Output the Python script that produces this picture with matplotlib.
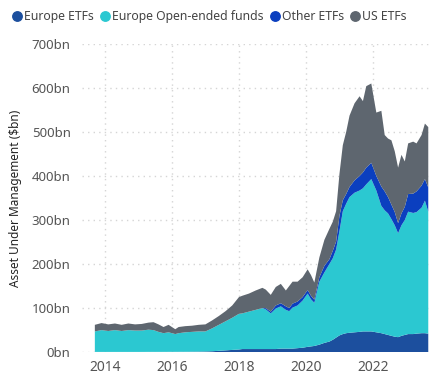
import matplotlib
matplotlib.use("Agg")
import matplotlib.pyplot as plt
from matplotlib.lines import Line2D
from matplotlib.ticker import FuncFormatter

plt.rcParams['font.family'] = ['Noto Sans', 'DejaVu Sans']

# decimal years
dates = [2013.7, 2013.9, 2014.1, 2014.3, 2014.5, 2014.7, 2014.9, 2015.1, 2015.3, 2015.45,
         2015.6, 2015.75, 2015.9, 2016.1, 2016.2, 2016.4, 2016.6, 2016.8, 2017.0, 2017.2,
         2017.4, 2017.6, 2017.8, 2018.0, 2018.1, 2018.3, 2018.5, 2018.7, 2018.8, 2018.95,
         2019.1, 2019.25, 2019.4, 2019.5, 2019.6, 2019.75, 2019.9, 2020.05, 2020.15, 2020.25,
         2020.4, 2020.55, 2020.7, 2020.8, 2020.9, 2021.0, 2021.1, 2021.2, 2021.3, 2021.45,
         2021.6, 2021.7, 2021.8, 2021.95, 2022.1, 2022.25, 2022.35, 2022.45, 2022.55, 2022.65,
         2022.75, 2022.85, 2022.95, 2023.05, 2023.2, 2023.3, 2023.45, 2023.55, 2023.65]

# $bn
europe_etfs = [0.5, 0.5, 0.5, 0.5, 0.5, 0.5, 0.5, 0.5, 0.6, 0.6,
               0.6, 0.6, 0.7, 0.7, 0.8, 0.8, 1, 1.2, 1.5, 2,
               3, 4, 5, 6, 7, 7, 7, 7, 7, 7,
               7, 8, 8, 8, 8, 9, 10, 12, 13, 14,
               17, 21, 24, 28, 33, 38, 41, 43, 44, 45,
               46, 47, 47, 47, 45, 43, 41, 39, 37, 35,
               34, 37, 39, 41, 41, 42, 43, 43, 42]
europe_oef = [46.5, 49.5, 47.5, 49.5, 47.5, 49.5, 48.5, 48.5, 50.4, 49.4,
              45.4, 42.4, 44.3, 40.3, 42.2, 44.2, 45, 45.8, 45.5, 52,
              59, 66, 73, 81, 81, 85, 89, 93, 90, 81,
              92, 96, 88, 85, 93, 97, 107, 121, 107, 98,
              143, 160, 176, 185, 200, 237, 279, 294, 308, 317,
              321, 325, 334, 346, 322, 289, 281, 276, 265, 253,
              236, 251, 261, 278, 275, 276, 285, 301, 277]
other_etfs = [0, 0, 0, 0, 0, 0, 0, 0, 0, 0,
              0, 0, 0, 0, 0, 0, 0, 0, 0, 0,
              0, 0, 0, 0, 0, 0, 0, 0, 3, 4,
              7, 7, 8, 7, 9, 9, 8, 8, 8, 7,
              10, 15, 11, 17, 18, 35, 25, 22, 23, 28,
              33, 36, 38, 37, 33, 44, 43, 37, 33, 30,
              23, 27, 30, 40, 44, 47, 50, 49, 55]
us_etfs = [15, 16, 15, 15, 14, 15, 14, 15, 16, 18,
           17, 14, 17, 11, 14, 14, 14, 15, 16, 18,
           20, 23, 28, 38, 40, 41, 44, 46, 42, 38,
           42, 44, 36, 50, 50, 45, 45, 47, 47, 39,
           45, 59, 69, 66, 69, 95, 125, 141, 162, 175,
           181, 162, 185, 180, 144, 172, 128, 133, 146, 138,
           126, 133, 103, 115, 118, 109, 115, 126, 137]

labels = ["Europe ETFs", "Europe Open-ended funds", "Other ETFs", "US ETFs"]
colors = ["#1c4f9e", "#2bc8d1", "#0b3fbf", "#5e666f"]

fig = plt.figure(figsize=(4.35, 3.75), dpi=100)
ax = fig.add_axes([0.188, 0.061, 0.805, 0.822])

ax.stackplot(dates, europe_etfs, europe_oef, other_etfs, us_etfs,
             colors=colors, linewidth=0, zorder=2)

ax.set_xlim(2013.31, 2023.76)
ax.set_ylim(0, 700)
ax.set_xticks([2014, 2016, 2018, 2020, 2022])
ax.set_yticks(range(0, 701, 100))
ax.yaxis.set_major_formatter(FuncFormatter(lambda v, p: "{:d}bn".format(int(v))))
ax.grid(True, color="#d5d5d5", linestyle=(0, (1, 3)), linewidth=1, zorder=0)
for s in ax.spines.values():
    s.set_visible(False)
ax.tick_params(length=0, colors="#555555")
ax.tick_params(axis="x", labelsize=10, pad=6)
ax.tick_params(axis="y", labelsize=9.5, pad=8)
ax.set_ylabel("Asset Under Management (\\$bn)", fontsize=8.5, color="#222222", labelpad=7)

handles = [Line2D([], [], marker="o", linestyle="", color=c, markersize=6.8) for c in colors]
fig.legend(handles, labels, loc="center left", bbox_to_anchor=(0.028, 0.955), ncol=4,
           frameon=False, fontsize=8.8, handlelength=0.8, handletextpad=0.15,
           columnspacing=0.55, borderaxespad=0.0, borderpad=0.0, labelcolor="#444444")

fig.savefig("out.png", dpi=100)
